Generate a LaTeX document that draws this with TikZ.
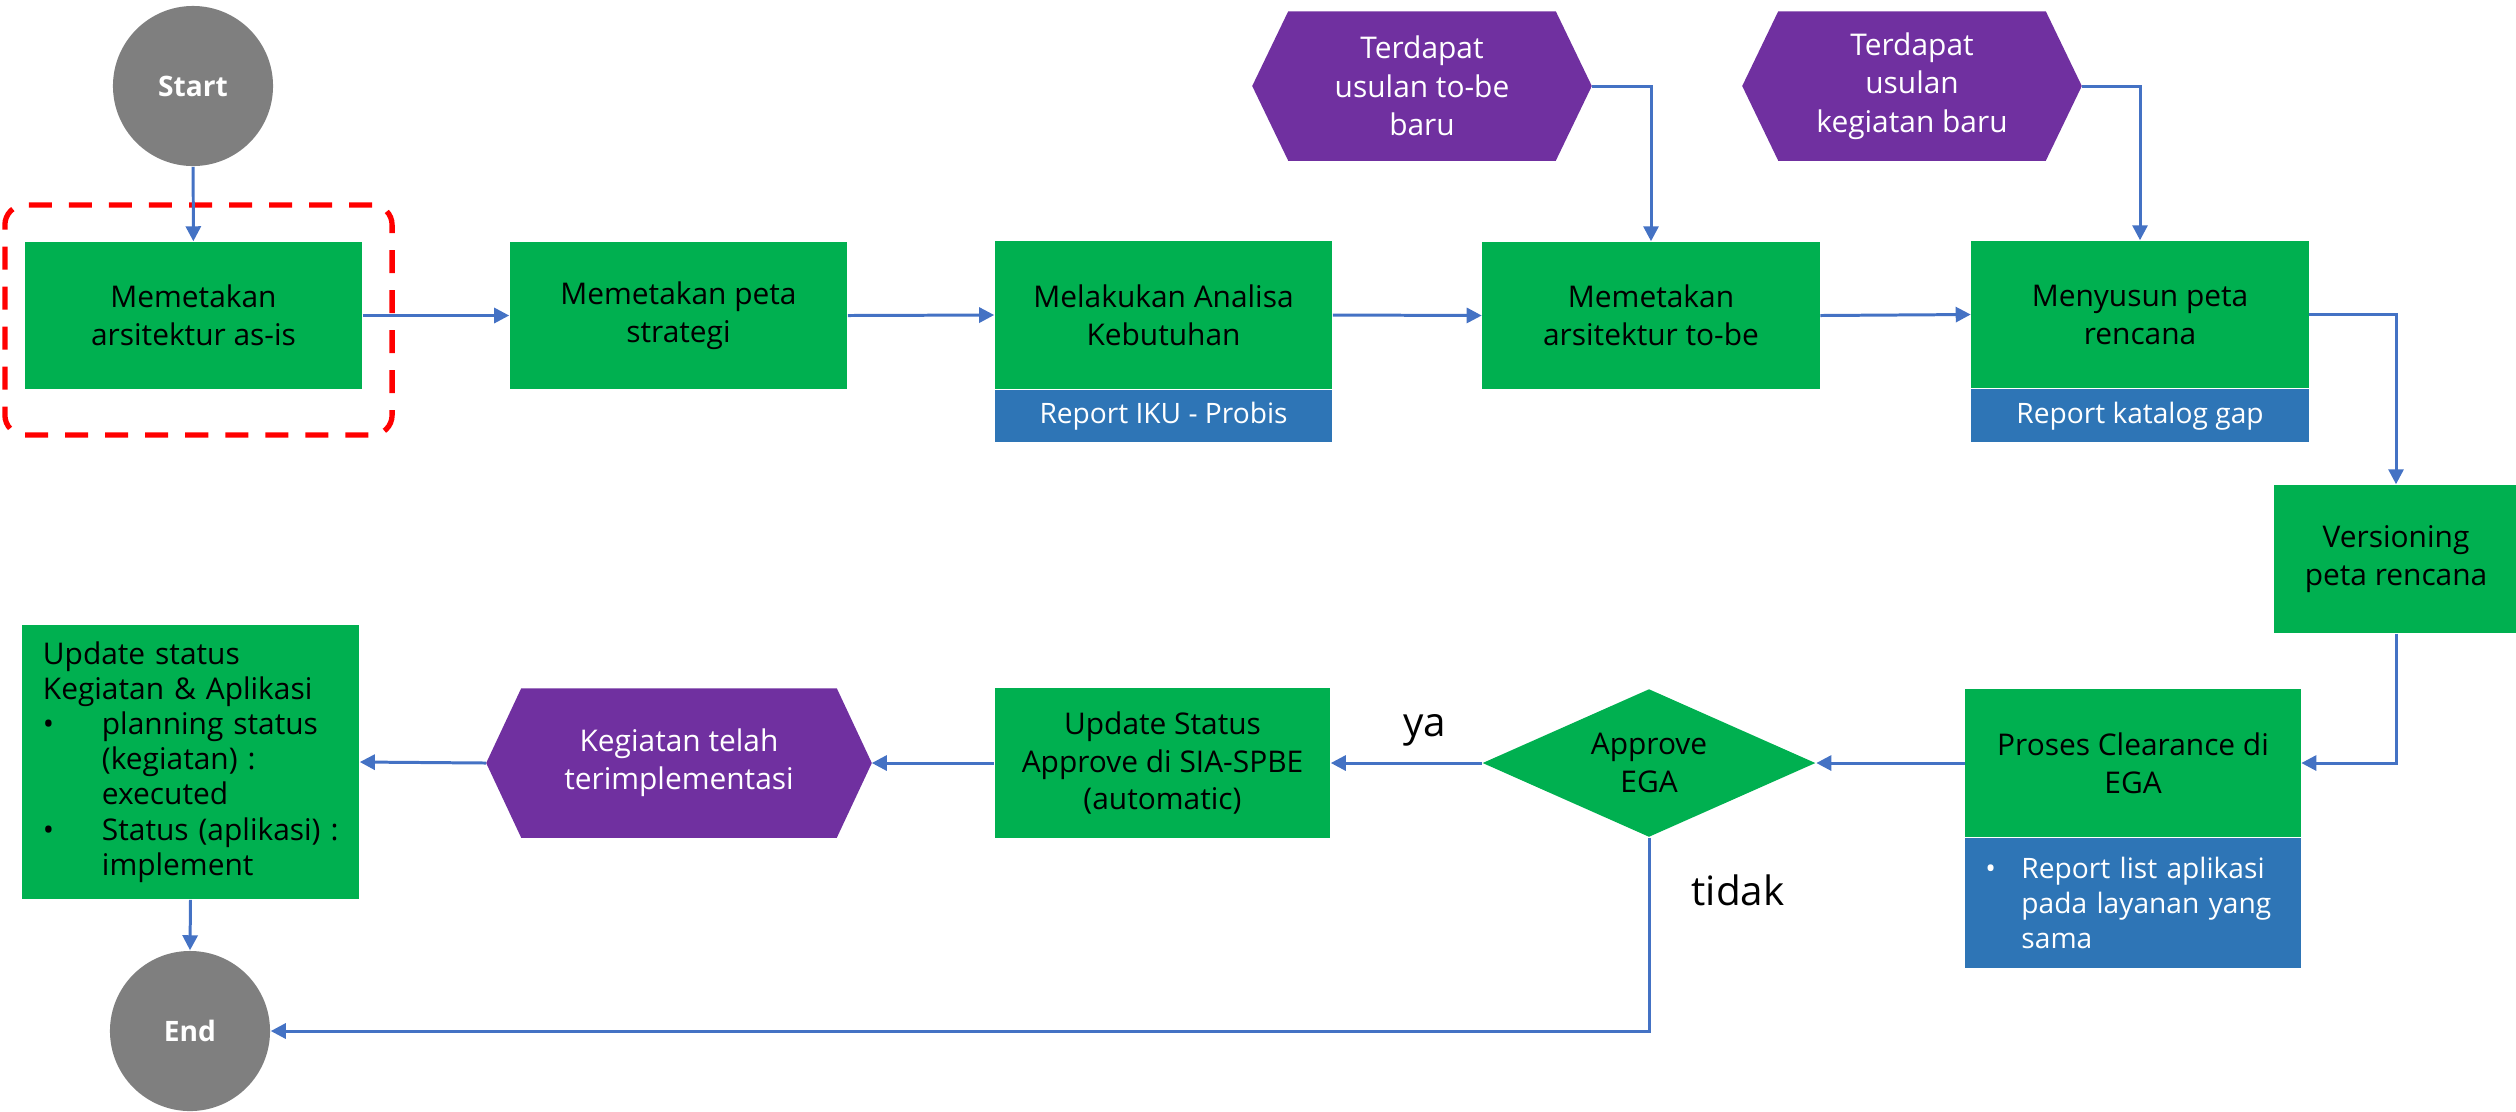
\documentclass[tikz,border=0pt]{standalone}
\usepackage{fontspec}
\setmainfont{Open Sans}
\usetikzlibrary{arrows.meta,shapes.geometric,backgrounds}
\definecolor{cgreen}{HTML}{00B050}
\definecolor{cblue}{HTML}{2E75B6}
\definecolor{cpurple}{HTML}{7030A0}
\definecolor{cgray}{HTML}{7F7F7F}
\definecolor{cline}{HTML}{4472C4}
\definecolor{cred}{HTML}{FF0000}
\newcommand\myhexfill[2]{\fill[cpurple] ([xshift=#2]#1.north west) -- ([xshift=-#2]#1.north east) -- (#1.east) -- ([xshift=-#2]#1.south east) -- ([xshift=#2]#1.south west) -- (#1.west) -- cycle;}
\tikzset{
 gbox/.style={fill=cgreen, minimum width=3.37cm, minimum height=1.47cm, inner sep=0pt, align=center, font=\fontsize{8.5}{10.8}\selectfont},
 rbox/.style={fill=cblue, text=white, minimum width=3.37cm, inner sep=0pt, align=center, font=\fontsize{8}{10}\selectfont},
 term/.style={circle, fill=cgray, text=white, minimum size=1.6cm, inner sep=0pt, font=\fontsize{8}{10}\selectfont\bfseries},
 hexa/.style={minimum height=1.48cm, inner sep=0pt, align=center, text=white, font=\fontsize{8.5}{10.9}\selectfont},
 dec/.style={diamond, fill=cgreen, aspect=2.25, minimum width=3.33cm, minimum height=1.48cm, inner sep=0pt, align=center, font=\fontsize{8.5}{10.8}\selectfont},
 conn/.style={draw=cline, line width=0.85pt, -{Triangle[length=0.15cm,width=0.15cm]}},
 lbl/.style={font=\fontsize{11.5}{14}\selectfont},
 hl/.style={draw=cred, line width=1.5pt, rounded corners=0.2cm, dash pattern=on 0.23cm off 0.17cm, minimum width=3.87cm, minimum height=2.3cm}
}
\begin{document}
\begin{tikzpicture}[x=0.01cm,y=-0.01cm]
\useasboundingbox (0,0) rectangle (2516,1111);
\node[hl] (hl) at (198.5,320) {};
\node[term] (start) at (193,86) {Start};
\node[gbox] (b1) at (193.5,315.5) {Memetakan\\arsitektur as-is};
\node[gbox] (b2) at (678.5,315.5) {Memetakan peta\\strategi};
\node[gbox] (b3) at (1163.5,315) {Melakukan Analisa\\Kebutuhan};
\node[rbox, minimum height=0.52cm, anchor=north] (r3) at (b3.south) {Report IKU - Probis};
\node[gbox] (b4) at (1651,315.5) {Memetakan\\arsitektur to-be};
\node[gbox] (b5) at (2140,314.5) {Menyusun peta\\rencana};
\node[rbox, minimum height=0.53cm, anchor=north] (r5) at (b5.south) {Report katalog gap};
\node[hexa, minimum width=3.38cm] (h1) at (1422,86) {Terdapat\\usulan to-be\\baru};
\node[hexa, minimum width=3.38cm] (h2) at (1912,86) {Terdapat\\usulan\\kegiatan baru};
\node[gbox, minimum width=2.44cm, minimum height=1.48cm] (b6) at (2396,559) {Versioning\\peta rencana};
\node[gbox, minimum width=3.35cm, minimum height=1.48cm] (b7) at (2133,763) {Proses Clearance di\\EGA};
\node[rbox, minimum width=3.35cm, minimum height=1.29cm, anchor=north, text width=2.95cm, align=left] (r7) at (b7.south) {\makebox[0.36cm][l]{•}Report list aplikasi\\\hspace*{0.36cm}pada layanan yang\\\hspace*{0.36cm}sama};
\node[dec] (d) at (1649,763) {Approve\\EGA};
\node[gbox, minimum width=3.35cm, minimum height=1.49cm] (b8) at (1162.5,763) {Update Status\\Approve di SIA-SPBE\\(automatic)};
\node[hexa, minimum width=3.84cm] (h3) at (679,763) {Kegiatan telah\\terimplementasi};
\node[gbox, minimum width=3.37cm, minimum height=2.74cm, text width=2.95cm, align=left, font=\fontsize{8.5}{10}\selectfont] (b9) at (190.5,762) {Update status\\Kegiatan \& Aplikasi\\\makebox[0.59cm][l]{•}planning status\\\hspace*{0.59cm}(kegiatan) :\\\hspace*{0.59cm}executed\\\makebox[0.59cm][l]{•}\mbox{Status (aplikasi) :}\\\hspace*{0.59cm}implement};
\node[term] (end) at (190,1031) {End};
\node[lbl] (ya) at (1425,730) {ya};
\node[lbl] (tidak) at (1738,890) {tidak};
\begin{pgfonlayer}{background}
\myhexfill{h1}{0.36cm}
\myhexfill{h2}{0.36cm}
\myhexfill{h3}{0.35cm}
\end{pgfonlayer}
\draw[conn] (start) -- (b1);
\draw[conn] (b1.east) -- (b2.west);
\draw[conn] (b2.east) -- (b3.west);
\draw[conn] (b3.east) -- (b4.west);
\draw[conn] (b4.east) -- (b5.west);
\draw[conn] (h1.east) -| (b4.north);
\draw[conn] (h2.east) -| (b5.north);
\draw[conn] (b5.east) -| (b6.north);
\draw[conn] (b6.south) |- (b7.east);
\draw[conn] (b7.west) -- (d.east);
\draw[conn] (d.west) -- (b8.east);
\draw[conn] (b8.west) -- (h3.east);
\draw[conn] (h3.west) -- (b9.east);
\draw[conn] (b9.south) -- (end.north);
\draw[conn] (d.south) |- (end.east);
\end{tikzpicture}
\end{document}
